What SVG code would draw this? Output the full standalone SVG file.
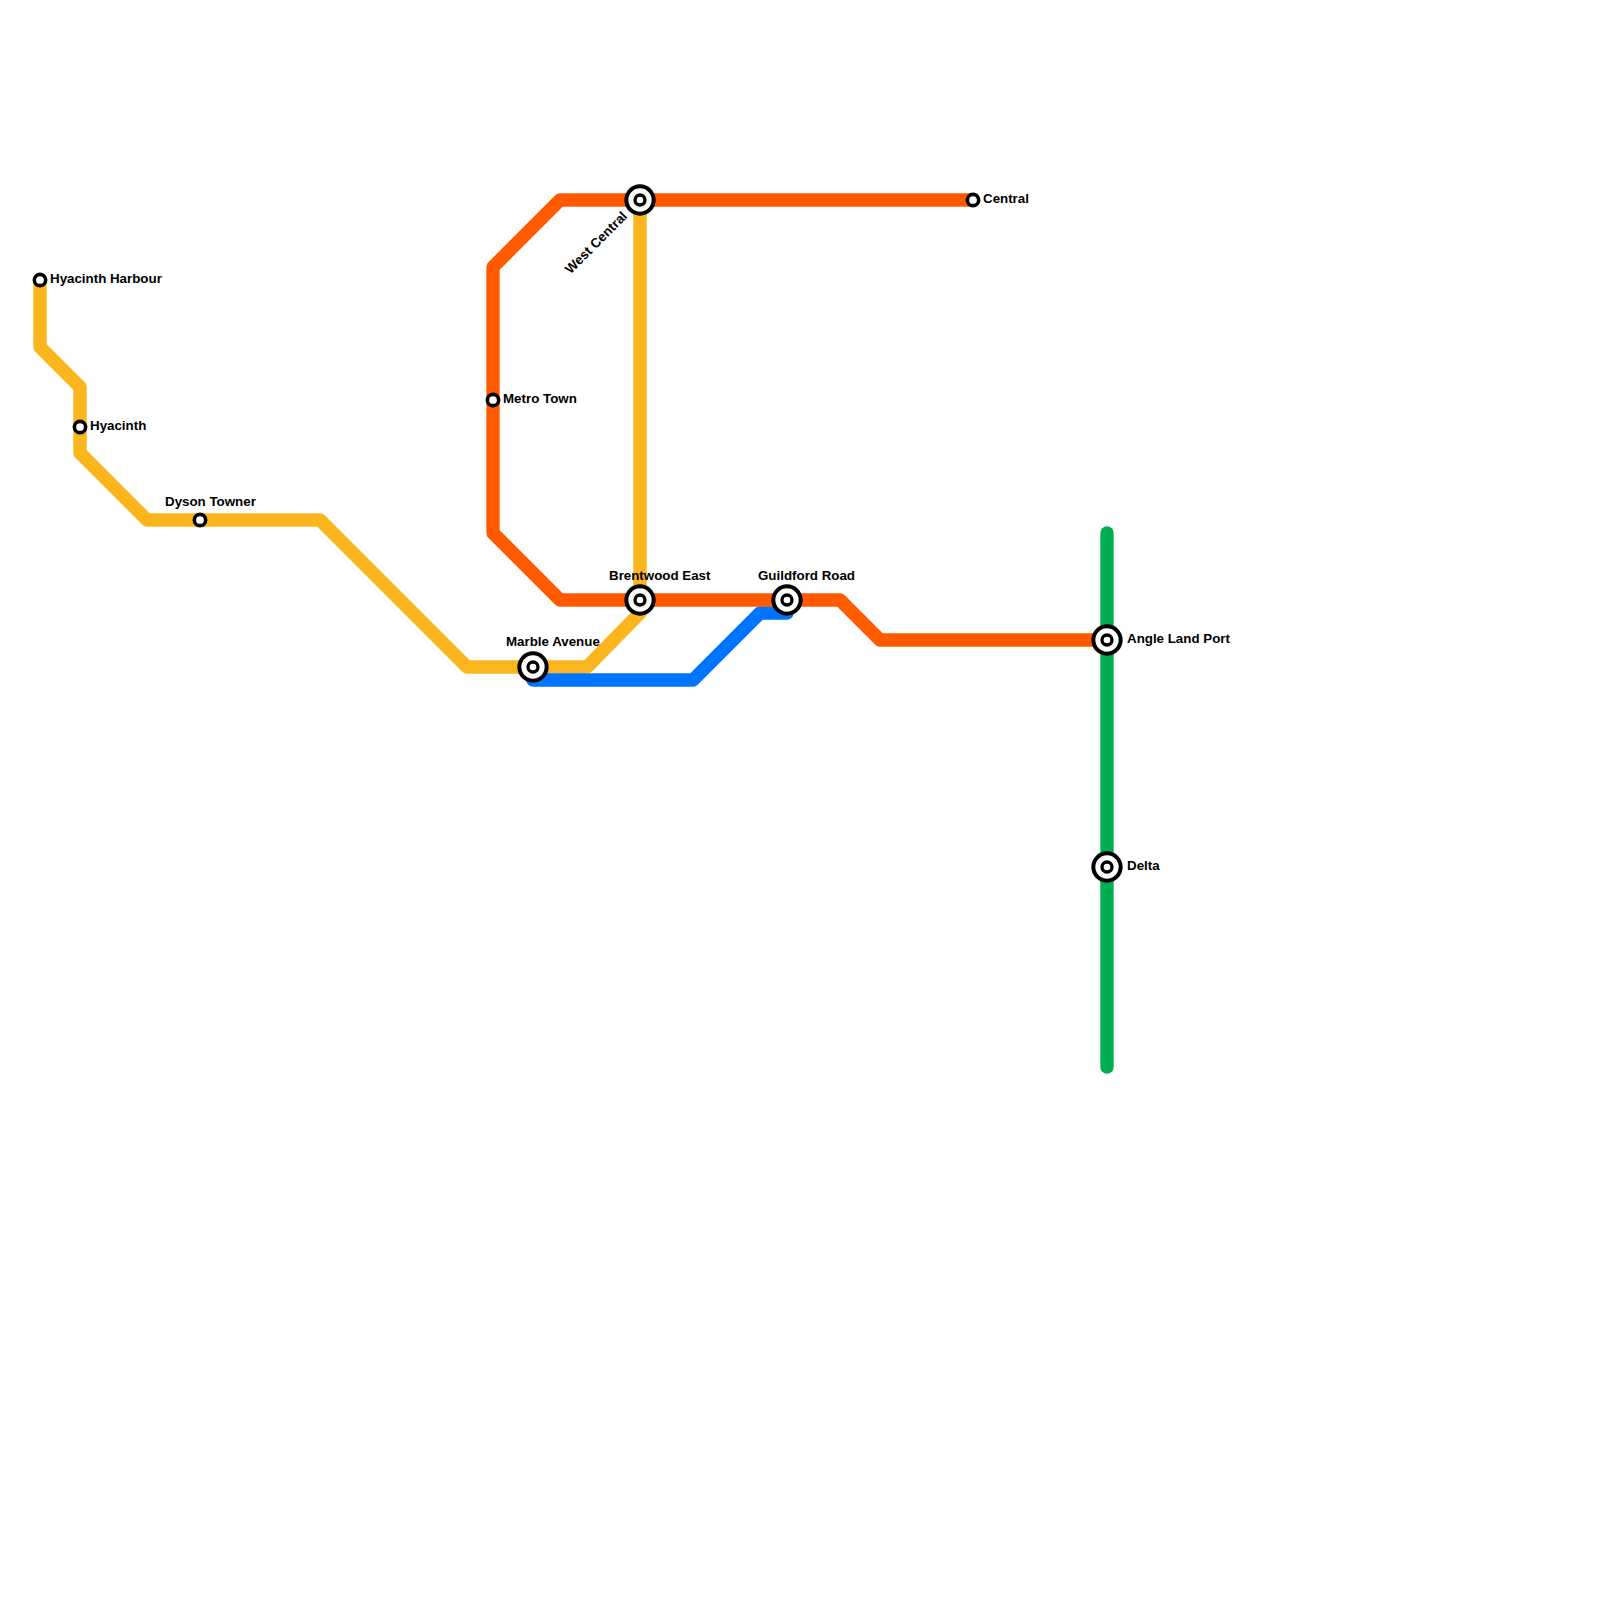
<svg xmlns="http://www.w3.org/2000/svg" width="1600" height="1600" viewBox="0 0 1600 1600">
<style>
.line{fill:none;stroke-width:13.33;stroke-linecap:round;stroke-linejoin:round}
.st{fill:#fff;stroke:#000;stroke-width:3.6}
.big{fill:#fff;stroke:#000;stroke-width:4}
.dot{fill:#fff;stroke:#000;stroke-width:3.33}
text{font-family:"Liberation Sans",Arial,sans-serif;font-size:13.33px;font-weight:700;fill:#000}
</style>
<rect width="1600" height="1600" fill="#fff"/>
<g id="connectors">
<path class="line" stroke="#fbb61e" d="M40 280V347L80 387V453L147 520H320L467 667H587L640 613V200"/>
<path class="line" stroke="#0073ff" d="M533 680H693L760 613H787"/>
<path class="line" stroke="#ff5a00" d="M973 200H560L493 267V533L560 600H840L880 640H1107"/>
<path class="line" stroke="#00ae50" d="M1107 533V1067"/>
</g>
<g id="hyacinth-harbour"><circle class="st" cx="40" cy="280" r="5.67"/><text x="50" y="283">Hyacinth Harbour</text></g>
<g id="hyacinth"><circle class="st" cx="80" cy="427" r="5.67"/><text x="90" y="430">Hyacinth</text></g>
<g id="dyson-towner"><circle class="st" cx="200" cy="520" r="5.67"/><text x="165" y="506">Dyson Towner</text></g>
<g id="metro-town"><circle class="st" cx="493" cy="400" r="5.67"/><text x="503" y="403">Metro Town</text></g>
<g id="central"><circle class="st" cx="973" cy="200" r="5.67"/><text x="983" y="203">Central</text></g>
<g id="marble-avenue"><circle class="big" cx="533" cy="667" r="13.67"/><circle class="dot" cx="533" cy="667" r="5"/><text x="506" y="646">Marble Avenue</text></g>
<g id="brentwood-east"><circle class="big" cx="640" cy="600" r="13.67"/><circle class="dot" cx="640" cy="600" r="5"/><text x="609" y="580">Brentwood East</text></g>
<g id="guildford-road"><circle class="big" cx="787" cy="600" r="13.67"/><circle class="dot" cx="787" cy="600" r="5"/><text x="758" y="580">Guildford Road</text></g>
<g id="west-central"><circle class="big" cx="640" cy="200" r="13.67"/><circle class="dot" cx="640" cy="200" r="5"/><text transform="translate(628 217) rotate(-45)" text-anchor="end">West Central</text></g>
<g id="angle-land-port"><circle class="big" cx="1107" cy="640" r="13.67"/><circle class="dot" cx="1107" cy="640" r="5"/><text x="1127" y="643">Angle Land Port</text></g>
<g id="delta"><circle class="big" cx="1107" cy="867" r="13.67"/><circle class="dot" cx="1107" cy="867" r="5"/><text x="1127" y="870">Delta</text></g>
</svg>
